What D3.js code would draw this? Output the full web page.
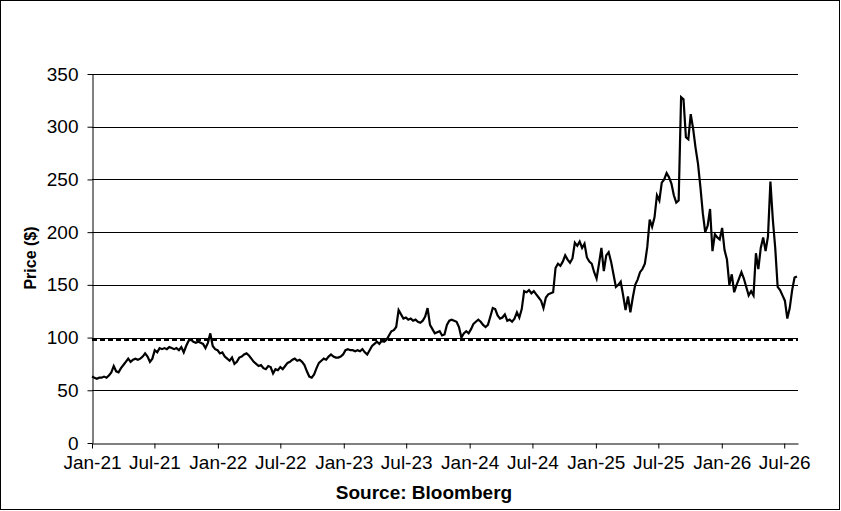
<!DOCTYPE html>
<html>
<head>
<meta charset="utf-8">
<script src="https://cdn.jsdelivr.net/npm/d3@7"></script>
<style>
  body { margin: 0; background: #fff; }
  svg { display: block; font-family: "Liberation Sans", Arial, sans-serif; }
</style>
</head>
<body>
<svg id="chart" width="841" height="511"></svg>
<script>
// weekly closing prices, first week = 1 Jan 2021
var startDate = new Date(2021, 0, 1);
var prices = [
  63, 62, 61, 62, 62, 63, 62, 64, 67, 73, 68, 67, 71, 74, 77, 80, 77, 79, 80, 79,
  80, 82, 85, 82, 77, 80, 88, 86, 90, 89, 90, 89, 91, 90, 89, 90, 88, 91, 86, 92,
  97, 98, 96, 95, 96, 95, 94, 90, 95, 104, 92, 89, 88, 85, 86, 82, 80, 78, 81, 75,
  77, 81, 82, 84, 85, 83, 80, 77, 75, 73, 74, 71, 70, 73, 72, 66, 70, 69, 72, 70,
  73, 76, 77, 79, 80, 78, 79, 77, 74, 68, 63, 62, 65, 71, 76, 78, 80, 79, 82, 84,
  82, 81, 81, 82, 84, 88, 89, 88, 88, 87, 88, 87, 89, 86, 84, 88, 92, 94, 96, 94,
  97, 96, 98, 102, 106, 107, 110, 126, 122, 118, 119, 117, 118, 116, 117, 115, 114, 116, 120, 128,
  112, 108, 104, 105, 106, 102, 103, 112, 116, 117, 116, 115, 110, 100, 104, 106, 104, 108, 113, 115,
  117, 115, 112, 110, 112, 120, 128, 127, 121, 118, 119, 122, 116, 117, 115, 118, 124, 119, 127, 144,
  143, 145, 142, 144, 141, 138, 135, 128, 138, 141, 142, 143, 166, 170, 168, 172, 178, 174, 171, 175,
  190, 187, 191, 185, 189, 176, 172, 170, 162, 156, 170, 185, 163, 178, 181, 172, 160, 148, 150, 153,
  140, 126, 139, 124, 138, 150, 155, 162, 165, 170, 186, 212, 205, 214, 235, 230, 247, 250, 256, 252,
  246, 235, 228, 230, 328, 326, 290, 288, 312, 298, 280, 265, 243, 218, 200, 206, 222, 182, 198, 195,
  193, 204, 183, 174, 150, 160, 143, 150, 156, 162, 156, 148, 140, 144, 140, 180, 165, 185, 195, 182,
  196, 248, 212, 185, 148, 145, 140, 135, 118, 128, 145, 157, 158
];
var refLevel = 97.7;
var tickDates = [
  "2021-01-01", "2021-07-01", "2022-01-01", "2022-07-01", "2023-01-01", "2023-07-01",
  "2024-01-01", "2024-07-01", "2025-01-01", "2025-07-01", "2026-01-01", "2026-07-01"
];
var yTicks = [0, 50, 100, 150, 200, 250, 300, 350];

var parse = d3.timeParse("%Y-%m-%d");
var fmt = d3.timeFormat("%b-%y");

var series = prices.map(function(v, i){
  return { date: d3.timeDay.offset(startDate, i * 7), value: v };
});

var svg = d3.select("#chart");

// outer frame
svg.append("rect")
  .attr("x", 0.5).attr("y", 0.5)
  .attr("width", 839).attr("height", 509)
  .attr("fill", "#fff").attr("stroke", "#000").attr("stroke-width", 1);

var x = d3.scaleTime()
  .domain([parse("2021-01-01"), parse("2026-08-10")])
  .range([92, 798]);
var y = d3.scaleLinear().domain([0, 350]).range([443, 74]);

// gridlines
svg.append("g").selectAll("line").data(yTicks.slice(1)).enter()
  .append("line")
  .attr("x1", 92).attr("x2", 798)
  .attr("y1", function(d){ return Math.round(y(d)) + 0.5; })
  .attr("y2", function(d){ return Math.round(y(d)) + 0.5; })
  .attr("stroke", "#000").attr("stroke-width", 1);

// y axis
var yAxis = svg.append("g")
  .attr("transform", "translate(92.5,0)")
  .call(d3.axisLeft(y).tickValues(yTicks).tickSize(5).tickPadding(9).tickSizeOuter(0));

// x axis
var xAxis = svg.append("g")
  .attr("transform", "translate(0,443.5)")
  .call(d3.axisBottom(x).tickValues(tickDates.map(parse)).tickFormat(fmt)
    .tickSize(5).tickPadding(7).tickSizeOuter(0));

[yAxis, xAxis].forEach(function(a){
  a.select(".domain").attr("stroke", "#000");
  a.selectAll(".tick line").attr("stroke", "#000");
  a.selectAll("text")
    .attr("fill", "#000")
    .style("font-family", "'Liberation Sans', Arial, sans-serif")
    .style("font-size", "19px");
});

// reference level
svg.append("line")
  .attr("x1", 92).attr("x2", 798)
  .attr("y1", y(refLevel)).attr("y2", y(refLevel))
  .attr("stroke", "#000").attr("stroke-width", 2)
  .attr("stroke-dasharray", "5,3");

// price line
var line = d3.line()
  .x(function(d){ return x(d.date); })
  .y(function(d){ return y(d.value); });

svg.append("path")
  .datum(series)
  .attr("d", line)
  .attr("fill", "none")
  .attr("stroke", "#000")
  .attr("stroke-width", 2.2)
  .attr("stroke-linejoin", "miter");

// titles
svg.append("text")
  .attr("transform", "translate(36,258) rotate(-90)")
  .attr("text-anchor", "middle")
  .style("font-size", "16px").style("font-weight", "bold")
  .text("Price ($)");

svg.append("text")
  .attr("x", 424).attr("y", 499)
  .attr("text-anchor", "middle")
  .style("font-size", "19px").style("font-weight", "bold")
  .text("Source: Bloomberg");
</script>
</body>
</html>
